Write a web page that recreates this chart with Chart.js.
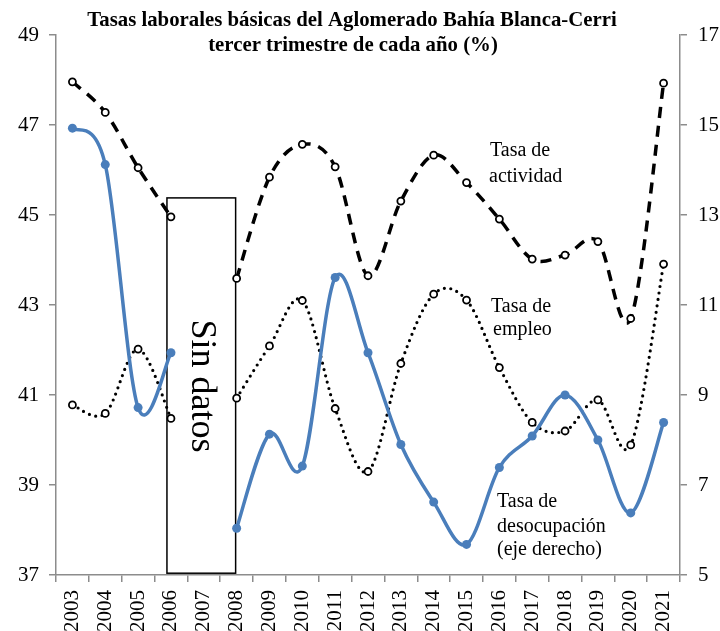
<!DOCTYPE html>
<html>
<head>
<meta charset="utf-8">
<script src="https://cdn.jsdelivr.net/npm/chart.js@4.4.1/dist/chart.umd.min.js"></script>
<style>
    body { margin: 0; background: #ffffff; }
    #wrap { width: 720px; height: 631px; position: relative; }
</style>
</head>
<body>
<div id="wrap"><canvas id="tasasChart"></canvas></div>
<script>
// Años (2007 sin datos)
const years = ['2003', '2004', '2005', '2006', '2007', '2008', '2009', '2010', '2011', '2012',
    '2013', '2014', '2015', '2016', '2017', '2018', '2019', '2020', '2021'];

// Tasa de actividad (eje izquierdo)
const actividad = [47.96, 47.28, 46.05, 44.96, null, 43.59, 45.84, 46.57, 46.07, 43.65,
    45.31, 46.33, 45.72, 44.91, 44.02, 44.11, 44.41, 42.70, 47.93];

// Tasa de empleo (eje izquierdo)
const empleo = [40.78, 40.59, 42.02, 40.48, null, 40.93, 42.09, 43.10, 40.70, 39.30,
    41.70, 43.24, 43.11, 41.61, 40.39, 40.20, 40.89, 39.89, 43.91];

// Tasa de desocupación (eje derecho)
const desocupacion = [14.93, 14.12, 8.72, 9.94, null, 6.04, 8.13, 7.42, 11.61, 9.94,
    7.90, 6.62, 5.68, 7.39, 8.09, 9.00, 8.00, 6.38, 8.39];

const leftTicks = [37, 39, 41, 43, 45, 47, 49];
const rightTicks = [5, 7, 9, 11, 13, 15, 17];

const titleLines = ['Tasas laborales básicas del Aglomerado Bahía Blanca-Cerri',
    'tercer trimestre de cada año (%)'];

const serif = "'Liberation Serif', 'Times New Roman', serif";
const axisGray = '#8c8c8c';
const blue = '#4a7ebb';

// suavizado tipo Excel (Catmull-Rom uniforme) sobre los puntos ya escalados
const smoothPlugin = {
    id: 'smooth',
    beforeDatasetsDraw(chart) {
        chart.data.datasets.forEach((ds, di) => {
            const meta = chart.getDatasetMeta(di);
            meta.dataset.updateControlPoints(chart.chartArea, 'x');
            const pts = meta.data;
            for (let i = 0; i < pts.length; i++) {
                const p = pts[i];
                if (p.skip) continue;
                const prev = (i > 0 && !pts[i - 1].skip) ? pts[i - 1] : p;
                const next = (i < pts.length - 1 && !pts[i + 1].skip) ? pts[i + 1] : p;
                const dx = (next.x - prev.x) / 6;
                const dy = (next.y - prev.y) / 6;
                p.cp1x = p.x - dx; p.cp1y = p.y - dy;
                p.cp2x = p.x + dx; p.cp2y = p.y + dy;
            }
        });
    }
};

// título, recuadro "Sin datos" y etiquetas de las series
const extrasPlugin = {
    id: 'extras',
    beforeDatasetsDraw(chart) {
        const c = chart.ctx;
        const x = chart.scales.x;
        const y = chart.scales.y;

        // recuadro Sin datos
        const x0 = x.getPixelForValue(3) - 4;
        const x1 = x.getPixelForValue(5) - 1;
        const y0 = y.getPixelForValue(45.38);
        const y1 = y.getPixelForValue(37.04);
        c.save();
        c.strokeStyle = '#000';
        c.lineWidth = 1.5;
        c.strokeRect(x0, y0, x1 - x0, y1 - y0);

        c.translate((x0 + x1) / 2, 386);
        c.rotate(Math.PI / 2);
        c.fillStyle = '#000';
        c.textAlign = 'center';
        c.textBaseline = 'middle';
        c.font = '36px ' + serif;
        c.fillText('Sin datos', 0, 0);
        c.restore();
    },
    afterDraw(chart) {
        const c = chart.ctx;
        c.save();
        c.fillStyle = '#000';
        c.textAlign = 'center';
        c.textBaseline = 'middle';
        c.font = 'bold 22px ' + serif;
        c.save();
        c.translate(352, 20);
        c.scale(0.945, 1);
        c.fillText(titleLines[0], 0, 0);
        c.restore();
        c.save();
        c.translate(353, 45);
        c.scale(0.945, 1);
        c.fillText(titleLines[1], 0, 0);
        c.restore();

        c.textAlign = 'left';
        c.font = '20px ' + serif;
        c.fillText('Tasa de', 490, 151);
        c.fillText('actividad', 489, 177);
        c.fillText('Tasa de', 491, 307);
        c.fillText('empleo', 493, 330);
        c.fillText('Tasa de', 497, 502);
        c.fillText('desocupación', 497, 527);
        c.fillText('(eje derecho)', 497, 550);
        c.restore();
    }
};

const ctx = document.getElementById('tasasChart');

new Chart(ctx, {
    type: 'line',
    data: {
        labels: years,
        datasets: [{
            label: 'Tasa de desocupación',
            data: desocupacion,
            yAxisID: 'y1',
            borderColor: blue,
            backgroundColor: blue,
            borderWidth: 3.5,
            pointRadius: 4.5,
            pointBorderWidth: 0,
            pointBackgroundColor: blue,
            tension: 0.4
        }, {
            label: 'Tasa de actividad',
            data: actividad,
            yAxisID: 'y',
            borderColor: '#000',
            borderWidth: 3.5,
            borderDash: [11, 8],
            pointRadius: 3.5,
            pointBorderWidth: 1.8,
            pointBorderColor: '#000',
            pointBackgroundColor: '#fff',
            tension: 0.4
        }, {
            label: 'Tasa de empleo',
            data: empleo,
            yAxisID: 'y',
            borderColor: '#000',
            borderWidth: 3.2,
            borderDash: [0, 6.5],
            borderCapStyle: 'round',
            pointRadius: 3.5,
            pointBorderWidth: 1.8,
            pointBorderColor: '#000',
            pointBackgroundColor: '#fff',
            tension: 0.4
        }]
    },
    options: {
        responsive: true,
        maintainAspectRatio: false,
        animation: false,
        layout: {
            padding: { top: 35, left: 0, right: 0, bottom: 0 }
        },
        plugins: {
            legend: { display: false },
            title: { display: false },
            tooltip: { enabled: false }
        },
        scales: {
            x: {
                offset: true,
                grid: {
                    offset: true,
                    drawOnChartArea: false,
                    drawTicks: true,
                    tickLength: 7,
                    color: axisGray,
                    lineWidth: 1.5
                },
                border: { display: true, color: axisGray, width: 1.5 },
                ticks: {
                    autoSkip: false,
                    minRotation: 90,
                    maxRotation: 90,
                    padding: 8,
                    color: '#000',
                    font: { family: serif, size: 21 }
                },
                afterFit(scale) { scale.height = 56; }
            },
            y: {
                position: 'left',
                min: 37,
                max: 49,
                afterBuildTicks(scale) { scale.ticks = leftTicks.map(v => ({ value: v })); },
                grid: {
                    drawOnChartArea: false,
                    tickLength: 7,
                    color: axisGray,
                    lineWidth: 1.5
                },
                border: { display: true, color: axisGray, width: 1.5 },
                ticks: {
                    padding: 10,
                    color: '#000',
                    font: { family: serif, size: 21 }
                },
                afterFit(scale) { scale.width = 56; }
            },
            y1: {
                position: 'right',
                min: 5,
                max: 17,
                afterBuildTicks(scale) { scale.ticks = rightTicks.map(v => ({ value: v })); },
                grid: {
                    drawOnChartArea: false,
                    tickLength: 7,
                    color: axisGray,
                    lineWidth: 1.5
                },
                border: { display: true, color: axisGray, width: 1.5 },
                ticks: {
                    padding: 11,
                    color: '#000',
                    font: { family: serif, size: 21 }
                },
                afterFit(scale) { scale.width = 40; }
            }
        }
    },
    plugins: [smoothPlugin, extrasPlugin]
});
</script>
</body>
</html>
